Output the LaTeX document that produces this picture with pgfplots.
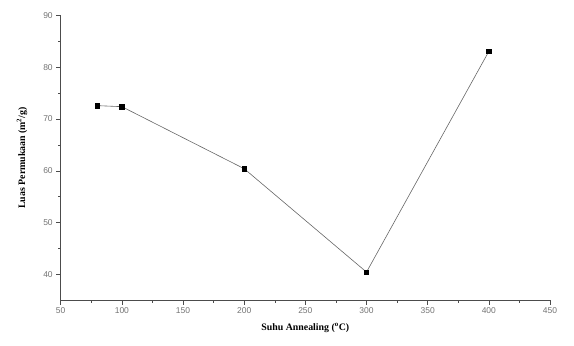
\documentclass[border=0pt]{standalone}
\usepackage{pgfplots}
\pgfplotsset{compat=1.18}
\usepackage{fontspec}
\setmainfont{Liberation Serif}
\newfontfamily\tickfont{Liberation Sans}
\begin{document}
\begin{tikzpicture}
\useasboundingbox (-60.7bp,-46bp) rectangle (513.3bp,300bp);
\begin{axis}[
 at={(0,0)}, anchor=south west,
 scale only axis, width=489.3bp, height=284.3bp,
 xmin=50, xmax=450, ymin=35, ymax=90,
 axis x line=bottom, axis y line=left,
 axis line style={-, draw=black!70, line width=0.6pt},
 xtick={50,100,...,450}, ytick={40,50,...,90},
 minor x tick num=1, minor y tick num=1,
 tick align=outside,
 major tick length=4.5bp, minor tick length=2.5bp,
 tick style={black!70, line width=0.5pt},
 ticklabel style={font=\tickfont\fontsize{8.5}{9}\selectfont, text=black!55},
 /pgf/number format/assume math mode=true,
 xlabel={\textbf{Suhu Annealing (\textsuperscript{o}C)}},
 ylabel={\textbf{Luas Permukaan (m\textsuperscript{2}/g)}},
 label style={font=\fontsize{9.9}{11}\selectfont},
 xlabel style={at={(axis description cs:0.5,-0.0985)}, anchor=center},
 ylabel style={at={(axis description cs:-0.079,0.5)}, anchor=center},
]
\addplot[color=black!60, line width=0.6pt, mark=square*, mark size=2.2bp,
  mark options={fill=black, draw=black, solid}]
  coordinates {(80,72.6) (100,72.4) (200,60.4) (300,40.4) (400,83.1)};
\end{axis}
\end{tikzpicture}
\end{document}
